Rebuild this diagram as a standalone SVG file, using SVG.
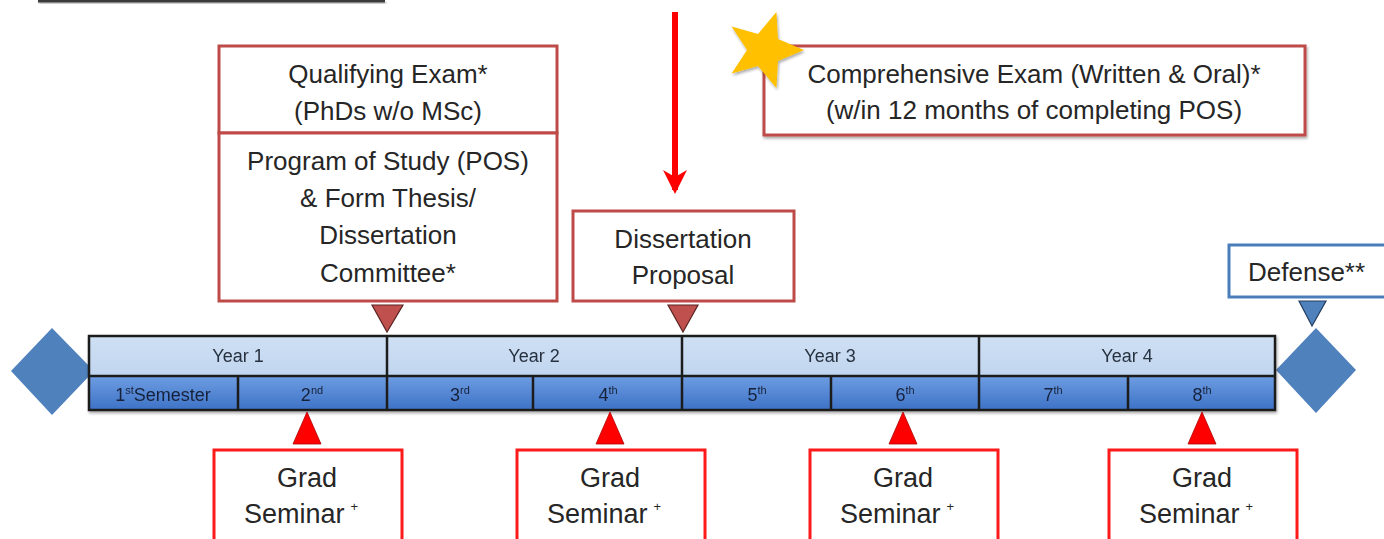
<svg xmlns="http://www.w3.org/2000/svg" width="1384" height="539" viewBox="0 0 1384 539">
  <defs>
    <linearGradient id="semFill" x1="0" y1="0" x2="0" y2="1">
      <stop offset="0" stop-color="#6E9DE2"/>
      <stop offset="1" stop-color="#3D72C6"/>
    </linearGradient>
    <linearGradient id="yearFill" x1="0" y1="0" x2="0" y2="1">
      <stop offset="0" stop-color="#CFE0F4"/>
      <stop offset="1" stop-color="#C0D5EF"/>
    </linearGradient>
    <filter id="shadow" x="-5%" y="-20%" width="110%" height="150%">
      <feGaussianBlur in="SourceAlpha" stdDeviation="1.5"/>
      <feOffset dx="1" dy="2" result="b"/>
      <feComponentTransfer><feFuncA type="linear" slope="0.35"/></feComponentTransfer>
      <feMerge><feMergeNode/><feMergeNode in="SourceGraphic"/></feMerge>
    </filter>
    <!-- arrowhead drawn along +x so orient="auto" turns it with the line -->
    <marker id="arrowHead" viewBox="0 0 24 24" refX="20" refY="12" markerWidth="24" markerHeight="24" markerUnits="userSpaceOnUse" orient="auto">
      <path d="M0,0 L24,12 L0,24 L7,12 Z" fill="#FF0000"/>
    </marker>
  </defs>
  <style>
    .lbl { font-family: "Liberation Sans", Arial, sans-serif; font-size: 26px; fill: #262626; text-anchor: middle; }
    .grad { font-size: 27px; }
    .yr { font-family: "Liberation Sans", Arial, sans-serif; font-size: 18px; fill: #27303F; text-anchor: middle; }
    .sem { font-family: "Liberation Sans", Arial, sans-serif; font-size: 18px; fill: #18223A; text-anchor: middle; }
    .sup { font-size: 11px; }
    .boxA { fill: #FFFFFF; stroke: #BE4B48; stroke-width: 3; }
    .boxB { fill: #FFFFFF; stroke: #FF1A1A; stroke-width: 3; }
    .boxBlue { fill: #FFFFFF; stroke: #4A7EBB; stroke-width: 3; }
    .ptrA { fill: #C0504D; stroke: #5A2422; stroke-width: 1.2; }
    .ptrB { fill: #FF0000; stroke: #B00000; stroke-width: 0.8; }
    .ptrBlue { fill: #4F81BD; stroke: #243F60; stroke-width: 1.2; }
    .diamond { fill: #4F81BD; }
    .cell { stroke: #1E1E1E; stroke-width: 2.5; }
  </style>

  <rect x="0" y="0" width="1384" height="539" fill="#FFFFFF"/>

  <!-- header rule -->
  <rect x="38" y="0" width="347" height="2.5" fill="#3A3A3A" filter="url(#shadow)"/>

  <!-- end markers -->
  <g id="start-diamond">
    <polygon class="diamond" points="52,328 94,371 52,415 11,371"/>
  </g>
  <g id="end-diamond">
    <polygon class="diamond" points="1316,328 1356,370 1316,413 1276,370"/>
  </g>

  <!-- timeline bar -->
  <g id="timeline" filter="url(#shadow)">
    <rect x="89" y="336" width="1186" height="40" fill="url(#yearFill)"/>
    <rect x="89" y="376" width="1186" height="34" fill="url(#semFill)"/>
    <g class="cell" fill="none">
      <rect x="89" y="336" width="1186" height="74"/>
      <line x1="89" y1="376" x2="1275" y2="376"/>
      <line x1="387" y1="336" x2="387" y2="410"/>
      <line x1="682" y1="336" x2="682" y2="410"/>
      <line x1="979" y1="336" x2="979" y2="410"/>
      <line x1="238" y1="376" x2="238" y2="410"/>
      <line x1="533" y1="376" x2="533" y2="410"/>
      <line x1="831" y1="376" x2="831" y2="410"/>
      <line x1="1128" y1="376" x2="1128" y2="410"/>
    </g>
    <text class="yr" x="238" y="362">Year 1</text>
    <text class="yr" x="534" y="362">Year 2</text>
    <text class="yr" x="830" y="362">Year 3</text>
    <text class="yr" x="1127" y="362">Year 4</text>
    <text class="sem" x="163" y="401">1<tspan class="sup" dy="-7">st</tspan><tspan dy="7">Semester</tspan></text>
    <text class="sem" x="312" y="401">2<tspan class="sup" dy="-7">nd</tspan></text>
    <text class="sem" x="460" y="401">3<tspan class="sup" dy="-7">rd</tspan></text>
    <text class="sem" x="608" y="401">4<tspan class="sup" dy="-7">th</tspan></text>
    <text class="sem" x="757" y="401">5<tspan class="sup" dy="-7">th</tspan></text>
    <text class="sem" x="905" y="401">6<tspan class="sup" dy="-7">th</tspan></text>
    <text class="sem" x="1053" y="401">7<tspan class="sup" dy="-7">th</tspan></text>
    <text class="sem" x="1202" y="401">8<tspan class="sup" dy="-7">th</tspan></text>
  </g>

  <!-- milestones above the bar -->
  <g id="qualifying-exam">
    <rect class="boxA" x="219" y="46" width="338" height="87"/>
    <text class="lbl" x="388" y="83">Qualifying Exam*</text>
    <text class="lbl" x="388" y="120">(PhDs w/o MSc)</text>
  </g>
  <g id="program-of-study">
    <rect class="boxA" x="219" y="133" width="338" height="168"/>
    <text class="lbl" x="388" y="170">Program of Study (POS)</text>
    <text class="lbl" x="388" y="207">&amp; Form Thesis/</text>
    <text class="lbl" x="388" y="244">Dissertation</text>
    <text class="lbl" x="388" y="282">Committee*</text>
  </g>
  <g id="dissertation-proposal">
    <rect class="boxA" x="573" y="211" width="221" height="90"/>
    <text class="lbl" x="683" y="248">Dissertation</text>
    <text class="lbl" x="683" y="284">Proposal</text>
  </g>
  <g id="comprehensive-exam">
    <rect class="boxA" x="764" y="46" width="541" height="89" filter="url(#shadow)"/>
    <text class="lbl" x="1034" y="83">Comprehensive Exam (Written &amp; Oral)*</text>
    <text class="lbl" x="1034" y="119">(w/in 12 months of completing POS)</text>
    <polygon fill="#FFC000" filter="url(#shadow)" points="776.4,12 778,39 804,50 778,61 776.4,88 758,66 731.6,73.5 747,50 731.6,26.5 758,34"/>
  </g>
  <g id="defense">
    <rect class="boxBlue" x="1229" y="245" width="170" height="52"/>
    <text class="lbl" x="1248" y="281" style="text-anchor:start">Defense**</text>
  </g>

  <!-- seminars below the bar -->
  <g id="grad-seminar-1">
    <rect class="boxB" x="214" y="450" width="188" height="100"/>
    <text class="lbl grad" x="307" y="487">Grad</text>
    <text class="lbl grad" x="301" y="523">Seminar<tspan font-size="13" dx="6" dy="-12">+</tspan></text>
  </g>
  <g id="grad-seminar-2">
    <rect class="boxB" x="517" y="450" width="188" height="100"/>
    <text class="lbl grad" x="610" y="487">Grad</text>
    <text class="lbl grad" x="604" y="523">Seminar<tspan font-size="13" dx="6" dy="-12">+</tspan></text>
  </g>
  <g id="grad-seminar-3">
    <rect class="boxB" x="810" y="450" width="188" height="100"/>
    <text class="lbl grad" x="903" y="487">Grad</text>
    <text class="lbl grad" x="897" y="523">Seminar<tspan font-size="13" dx="6" dy="-12">+</tspan></text>
  </g>
  <g id="grad-seminar-4">
    <rect class="boxB" x="1109" y="450" width="188" height="100"/>
    <text class="lbl grad" x="1202" y="487">Grad</text>
    <text class="lbl grad" x="1196" y="523">Seminar<tspan font-size="13" dx="6" dy="-12">+</tspan></text>
  </g>

  <!-- pointers and arrow -->
  <g id="connectors">
    <line x1="675" y1="12" x2="675" y2="190" stroke="#FF0000" stroke-width="6" marker-end="url(#arrowHead)"/>
    <polygon class="ptrA" points="372,305 403,305 387,332"/>
    <polygon class="ptrA" points="668,305 698,305 683,332"/>
    <polygon class="ptrBlue" points="1299,301 1326,301 1312,326"/>
    <polygon class="ptrB" points="293,444 321,444 307,412"/>
    <polygon class="ptrB" points="596,444 624,444 610,412"/>
    <polygon class="ptrB" points="889,444 917,444 903,412"/>
    <polygon class="ptrB" points="1188,444 1216,444 1202,412"/>
  </g>
</svg>
